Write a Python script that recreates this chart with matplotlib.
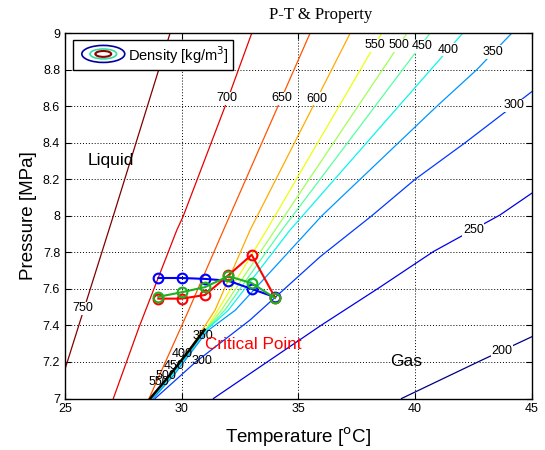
import matplotlib
matplotlib.use('Agg')
import matplotlib.pyplot as plt
import numpy as np
from matplotlib.patches import Ellipse, Rectangle
from matplotlib.colors import Normalize

# ---------------- data ----------------
# density contour lines (T in degC, P in MPa)
c750_T = [29.5, 27.07, 24.8]
c750_P = [9.0, 8.0, 7.08]
c700_T = [33.0, 31.86, 30.07, 29.79, 28.17, 27.07]
c700_P = [9.0, 8.6, 8.0, 7.922, 7.39, 7.0]
c650_T = [35.5, 31.79, 30.3, 28.6]
c650_P = [9.0, 7.922, 7.484, 7.0]
c600_T = [37.22, 32.93, 31.43, 30.5, 29.93, 29.2, 28.62]
c600_P = [9.0, 7.922, 7.484, 7.3, 7.19, 7.08, 7.0]
c550_T = [38.57, 33.64, 31.55, 31.0, 30.3, 29.5, 28.63]
c550_P = [9.0, 7.922, 7.484, 7.372, 7.255, 7.125, 7.0]
c500_T = [39.65, 34.0, 31.7, 31.02, 30.32, 29.52, 28.65]
c500_P = [9.0, 7.922, 7.484, 7.374, 7.258, 7.128, 7.0]
c450_T = [40.64, 34.29, 31.85, 31.04, 30.34, 29.55, 28.67]
c450_P = [9.0, 7.922, 7.484, 7.376, 7.259, 7.129, 7.0]
c400_T = [42.04, 34.64, 32.0, 31.06, 30.38, 29.6, 28.72]
c400_P = [9.0, 7.922, 7.484, 7.376, 7.258, 7.128, 7.0]
c350_T = [44.14, 42.64, 40.93, 36.0, 32.3, 31.1, 30.42, 29.65, 28.78]
c350_P = [9.0, 8.8, 8.6, 8.0, 7.484, 7.37, 7.255, 7.126, 7.0]
c300_T = [45.0, 42.14, 40.0, 38.14, 35.93, 32.93, 30.6, 28.86]
c300_P = [8.68, 8.4, 8.2, 8.0, 7.776, 7.43, 7.2, 7.0]
c250_T = [45.0, 43.64, 40.79, 38.43, 36.0, 31.36]
c250_P = [8.124, 8.005, 7.805, 7.604, 7.403, 7.0]
c200_T = [39.42, 42.79, 45.0]
c200_P = [7.0, 7.206, 7.338]

# saturation line up to the critical point
sat_T = [28.65, 29.5, 30.3, 30.98]
sat_P = [7.0, 7.13, 7.26, 7.377]

# measured states
temps = [29, 30, 31, 32, 33, 34]
p_blue = [7.66, 7.66, 7.655, 7.645, 7.60, 7.555]
p_red = [7.547, 7.547, 7.567, 7.675, 7.787, 7.553]
p_green = [7.557, 7.582, 7.61, 7.67, 7.632, 7.55]

# contour labels: (text, T, P)
label_vals = ['750', '700', '650', '600', '550', '500', '450', '400', '350', '300', '250', '200',
              '350', '400', '300', '450', '500', '550']
label_T = [25.78, 31.93, 34.29, 35.79, 38.29, 39.29, 40.29, 41.43, 43.36, 44.22, 42.50, 43.72,
           30.92, 30.01, 30.85, 29.67, 29.33, 29.03]
label_P = [7.495, 8.644, 8.644, 8.642, 8.934, 8.934, 8.929, 8.910, 8.898, 8.606, 7.923, 7.261,
           7.343, 7.242, 7.206, 7.179, 7.124, 7.091]

xticks = [25, 30, 35, 40, 45]
yticks = [7, 7.2, 7.4, 7.6, 7.8, 8, 8.2, 8.4, 8.6, 8.8, 9]
ytick_labels = ['7', '7.2', '7.4', '7.6', '7.8', '8', '8.2', '8.4', '8.6', '8.8', '9']

# ---------------- figure ----------------
plt.rcParams['font.family'] = ['Liberation Sans', 'DejaVu Sans']
fig = plt.figure(figsize=(5.45, 4.5), dpi=100)
ax = fig.add_axes([0.1193, 0.1144, 0.8563, 0.8116])

cmap = plt.get_cmap('jet')
norm = Normalize(200, 750)
contours = [(750, c750_T, c750_P), (700, c700_T, c700_P), (650, c650_T, c650_P),
            (600, c600_T, c600_P), (550, c550_T, c550_P), (500, c500_T, c500_P),
            (450, c450_T, c450_P), (400, c400_T, c400_P), (350, c350_T, c350_P),
            (300, c300_T, c300_P), (250, c250_T, c250_P), (200, c200_T, c200_P)]
for lev, T, P in contours:
    ax.plot(T, P, color=cmap(norm(lev)), lw=0.9, zorder=2)

ax.plot(sat_T, sat_P, color='black', lw=1.8, zorder=3)

for i, (txt, t, p) in enumerate(zip(label_vals, label_T, label_P)):
    bb = dict(boxstyle='square,pad=0.05', fc='white', ec='none') if i < 12 else None
    ax.text(t, p, txt, fontsize=9, ha='center', va='center', zorder=4, bbox=bb)

ax.plot(temps, p_blue, '-o', color='#0000ff', lw=1.5, ms=7, mfc='none', mew=1.5, zorder=5)
ax.plot(temps, p_red, '-o', color='#ff0000', lw=1.5, ms=7, mfc='none', mew=1.5, zorder=6)
ax.plot(temps, p_green, '-o', color='#20b020', lw=1.5, ms=7, mfc='none', mew=1.5, zorder=7)

ax.text(25.99, 8.305, 'Liquid', fontsize=12.5, ha='left', va='center')
ax.text(38.93, 7.2, 'Gas', fontsize=12.5, ha='left', va='center')
ax.text(31.0, 7.295, 'Critical Point', fontsize=12.3, color='red', ha='left', va='center', zorder=8)

ax.set_xlim(25, 45)
ax.set_ylim(7, 9)
ax.set_xticks(xticks)
ax.set_yticks(yticks)
ax.set_yticklabels(ytick_labels)
ax.tick_params(direction='in', top=True, right=True, labelsize=9, length=4, width=0.8)
ax.grid(True, linestyle=(0, (1, 2)), color='black', lw=0.7)
for s in ax.spines.values():
    s.set_linewidth(1.0)

ax.set_xlabel('Temperature [$^{\\rm o}$C]', fontsize=13.5, labelpad=7)
ax.set_ylabel('Pressure [MPa]', fontsize=13.5)
fig.text(321 / 545, 1 - 15 / 450, 'P-T & Property', fontsize=12, family=['Liberation Serif'],
         ha='center', va='center')

# legend box drawn by hand
ax.add_patch(Rectangle((0.018, 0.900), 0.343, 0.0825, transform=ax.transAxes,
                       facecolor='white', edgecolor='black', lw=1.0, zorder=9))
ax.add_patch(Ellipse((0.082, 0.9435), 0.092, 0.0466, transform=ax.transAxes,
                     facecolor='none', edgecolor='#0000a0', lw=1.2, zorder=10))
ax.add_patch(Ellipse((0.082, 0.9435), 0.057, 0.027, transform=ax.transAxes,
                     facecolor='none', edgecolor='#30e0a0', lw=1.2, zorder=10))
ax.add_patch(Ellipse((0.082, 0.9435), 0.034, 0.016, transform=ax.transAxes,
                     facecolor='none', edgecolor='#900000', lw=1.5, zorder=10))
ax.text(0.136, 0.9415, 'Density [kg/m$^3$]', transform=ax.transAxes, fontsize=10.5,
        ha='left', va='center', zorder=10)

fig.savefig('out.png', dpi=100)
